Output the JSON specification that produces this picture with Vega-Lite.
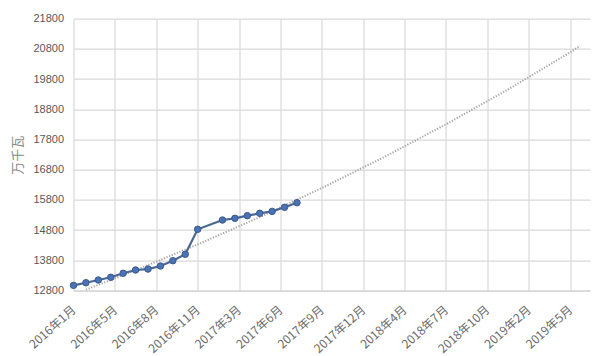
{
  "$schema": "https://vega.github.io/schema/vega-lite/v6.json",
  "autosize": {"type": "none"},
  "width": 516.5,
  "height": 271.8,
  "padding": {"left": 73.5, "top": 18.7, "right": 10, "bottom": 65.5},
  "background": "white",
  "datasets": {
    "actual": [
      {"m": 0, "v": 12970}, {"m": 1, "v": 13058}, {"m": 2, "v": 13148}, {"m": 3, "v": 13237},
      {"m": 4, "v": 13370}, {"m": 5, "v": 13479}, {"m": 6, "v": 13510}, {"m": 7, "v": 13611},
      {"m": 8, "v": 13787}, {"m": 9, "v": 14000}, {"m": 10, "v": 14826}, {"m": 12, "v": 15134},
      {"m": 13, "v": 15190}, {"m": 14, "v": 15277}, {"m": 15, "v": 15356}, {"m": 16, "v": 15420},
      {"m": 17, "v": 15555}, {"m": 18, "v": 15707}
    ],
    "trend": [
      {"m": 1, "v": 12827}, {"m": 5, "v": 13470}, {"m": 10, "v": 14326}, {"m": 15, "v": 15230},
      {"m": 20, "v": 16193}, {"m": 25, "v": 17215}, {"m": 30, "v": 18302}, {"m": 35, "v": 19458},
      {"m": 40, "v": 20686}, {"m": 40.8, "v": 20900}
    ]
  },
  "config": {
    "view": {"stroke": null},
    "font": "Liberation Sans"
  },
  "encoding": {
    "x": {
      "field": "m", "type": "quantitative",
      "scale": {"domain": [0, 41.6], "nice": false, "zero": false},
      "axis": {
        "title": null,
        "values": [0, 3.3333, 6.6667, 10, 13.3333, 16.6667, 20, 23.3333, 26.6667, 30, 33.3333, 36.6667, 40],
        "labelExpr": "['2016年1月','2016年5月','2016年8月','2016年11月','2017年3月','2017年6月','2017年9月','2017年12月','2018年4月','2018年7月','2018年10月','2019年2月','2019年5月'][round(datum.value*0.3)]",
        "labelAngle": -42,
        "labelAlign": "right",
        "labelBaseline": "middle",
        "labelPadding": 17,
        "labelFontSize": 12,
        "labelColor": "#6a6a6a",
        "labelFont": "Noto Sans CJK SC",
        "ticks": false,
        "domainColor": "#d0d0d0",
        "grid": true,
        "gridColor": "#d9d9d9",
        "gridWidth": 1.2,
        "labelOverlap": false,
        "labelBound": false,
        "labelFlush": false
      }
    },
    "y": {
      "field": "v", "type": "quantitative",
      "scale": {"domain": [12800, 21800], "nice": false, "zero": false},
      "axis": {
        "title": "万千瓦",
        "titleFont": "Noto Sans CJK SC",
        "titleFontWeight": "normal",
        "titleFontSize": 13,
        "titleColor": "#8a8a8a",
        "titleAngle": -90,
        "titleX": -56,
        "titleY": 136,
        "titleAlign": "center",
        "titleBaseline": "middle",
        "values": [12800, 13800, 14800, 15800, 16800, 17800, 18800, 19800, 20800, 21800],
        "format": "d",
        "labelFontSize": 11,
        "labelColor": "#595959",
        "labelPadding": 10,
        "ticks": false,
        "domain": false,
        "grid": true,
        "gridColor": "#d9d9d9",
        "gridWidth": 1.2
      }
    }
  },
  "layer": [
    {
      "data": {"name": "trend"},
      "mark": {"type": "line", "color": "#a9a3a6", "strokeWidth": 2, "strokeDash": [1.2, 1.6], "clip": true},
      "encoding": {}
    },
    {
      "data": {"name": "actual"},
      "mark": {"type": "line", "color": "#4a6794", "strokeWidth": 2.2},
      "encoding": {}
    },
    {
      "data": {"name": "actual"},
      "mark": {"type": "point", "filled": true, "shape": "circle", "size": 42, "color": "#4a72b4", "opacity": 1, "stroke": "#3a5a90", "strokeWidth": 1},
      "encoding": {}
    }
  ]
}
